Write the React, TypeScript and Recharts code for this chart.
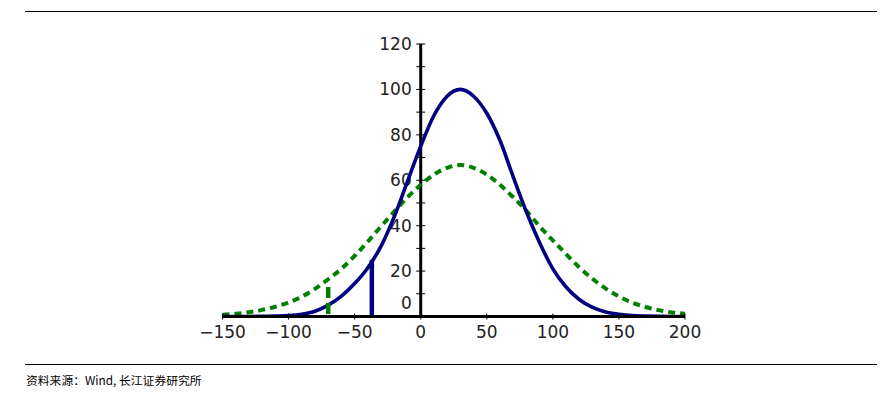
import React from 'react';
import { ComposedChart, Line, XAxis, YAxis, ReferenceLine } from 'recharts';

const xValues = [-150, -140, -130, -120, -110, -100, -90, -80, -70, -60, -50, -40, -30, -20, -10, 0, 10, 20, 30, 40, 50, 60, 70, 80, 90, 100, 110, 120, 130, 140, 150, 160, 170, 180, 190, 200];
const blueValues = [0, 0, 0, 0.1, 0.2, 0.4, 1.0, 2.3, 5.0, 9.0, 14.5, 21.5, 31, 44, 59.5, 75, 88.5, 97, 100, 97, 89.5, 77.5, 61.5, 46, 32.5, 21, 13, 7.5, 4, 2, 1, 0.4, 0.2, 0.1, 0, 0];
const greenValues = [0.8, 1.2, 1.9, 2.9, 4.3, 6.2, 8.7, 12.2, 16.4, 21, 26.7, 33, 39.7, 46.2, 52.5, 58, 62.5, 65.5, 66.7, 65.5, 62.5, 58, 52.5, 46.5, 39.7, 33.5, 27.5, 21.6, 16.6, 12.3, 8.8, 6.1, 4.2, 2.8, 1.8, 1.2];

const xTicks = [-150, -100, -50, 0, 50, 100, 150, 200];
const yLabelTicks = [0, 20, 40, 60, 80, 100, 120];
const yMinorTicks = [10, 30, 50, 70, 90, 110];

const blueMarkerX = -37;
const blueMarkerTop = 25;
const greenMarkerX = -70;
const greenMarkerTop = 13;

const sourceText = '资料来源：Wind, 长江证券研究所';

const data = xValues.map((x, i) => ({ x, blue: blueValues[i], green: greenValues[i] }));

const NAVY = '#000080';
const GREEN = '#008000';
const TEXT = '#222';
const FONT = '"DejaVu Sans", sans-serif';

const XTick = (props: any) => {
  const { x, y, payload } = props;
  const v = payload.value as number;
  const label = v < 0 ? `\u2212${Math.abs(v)}` : `${v}`;
  return (
    <g>
      <line x1={x} x2={x} y1={y - 3} y2={y + 3} stroke="#000" strokeWidth={1} />
      <text x={x} y={y + 21} textAnchor="middle" fontSize={17} fill={TEXT} fontFamily={FONT}>
        {label}
      </text>
    </g>
  );
};

const YLabel = (props: any) => {
  const { viewBox, v } = props;
  if (!viewBox) return null;
  const cx = viewBox.x + viewBox.width / 2;
  const cy = viewBox.y + viewBox.height / 2;
  const dy = v === 0 ? -14 : 0;
  return (
    <text x={cx - 9} y={cy + dy + 6} textAnchor="end" fontSize={17} fill={TEXT} fontFamily={FONT}>
      {v}
    </text>
  );
};

export default function App() {
  return (
    <div style={{ position: 'absolute', left: 0, top: 0, width: 891, height: 394, background: '#fff' }}>
      <div style={{ position: 'absolute', left: 25, top: 11, width: 852, height: 0, borderTop: '1.5px solid #000' }} />
      <div style={{ position: 'absolute', left: 0, top: 0 }}>
        <ComposedChart
          width={891}
          height={394}
          data={data}
          margin={{ top: 44, right: 206, bottom: 47.5, left: 222.5 }}
        >
          <XAxis
            dataKey="x"
            type="number"
            domain={[-150, 200]}
            ticks={xTicks}
            allowDataOverflow
            height={30}
            axisLine={{ stroke: '#000', strokeWidth: 3 }}
            tickLine={false}
            tickSize={0}
            tickMargin={0}
            tick={<XTick />}
            interval={0}
          />
          <YAxis hide width={0} type="number" domain={[0, 120]} allowDataOverflow />
          <ReferenceLine
            segment={[{ x: 0, y: 0 }, { x: 0, y: 120 }]}
            stroke="#000"
            strokeWidth={3}
          />
          {yLabelTicks.map((v) => (
            <ReferenceLine
              key={'l' + v}
              segment={[{ x: -3.4, y: v }, { x: 3.4, y: v }]}
              stroke="#000"
              strokeWidth={1}
              label={<YLabel v={v} />}
            />
          ))}
          {yMinorTicks.map((v) => (
            <ReferenceLine
              key={'m' + v}
              segment={[{ x: -3.4, y: v }, { x: 3.4, y: v }]}
              stroke="#000"
              strokeWidth={1}
            />
          ))}
          <Line
            dataKey="green"
            type="monotone"
            stroke={GREEN}
            strokeWidth={4}
            strokeDasharray="7 5"
            dot={false}
            activeDot={false}
            isAnimationActive={false}
          />
          <Line
            dataKey="blue"
            type="monotone"
            stroke={NAVY}
            strokeWidth={3.6}
            dot={false}
            activeDot={false}
            isAnimationActive={false}
          />
          <ReferenceLine
            segment={[{ x: blueMarkerX, y: 0 }, { x: blueMarkerX, y: blueMarkerTop }]}
            stroke={NAVY}
            strokeWidth={4.5}
          />
          <ReferenceLine
            segment={[{ x: greenMarkerX, y: greenMarkerTop }, { x: greenMarkerX, y: 0 }]}
            stroke={GREEN}
            strokeWidth={4.5}
            strokeDasharray="11 5"
          />
        </ComposedChart>
      </div>
      <div style={{ position: 'absolute', left: 25, top: 363.5, width: 852, height: 0, borderTop: '1.5px solid #000' }} />
      <div
        style={{
          position: 'absolute',
          left: 26,
          top: 372,
          fontSize: 11.8,
          lineHeight: '16px',
          color: '#000',
          fontFamily: '"Noto Sans CJK SC", "Noto Sans", sans-serif',
          whiteSpace: 'nowrap',
        }}
      >
        {sourceText}
      </div>
    </div>
  );
}
